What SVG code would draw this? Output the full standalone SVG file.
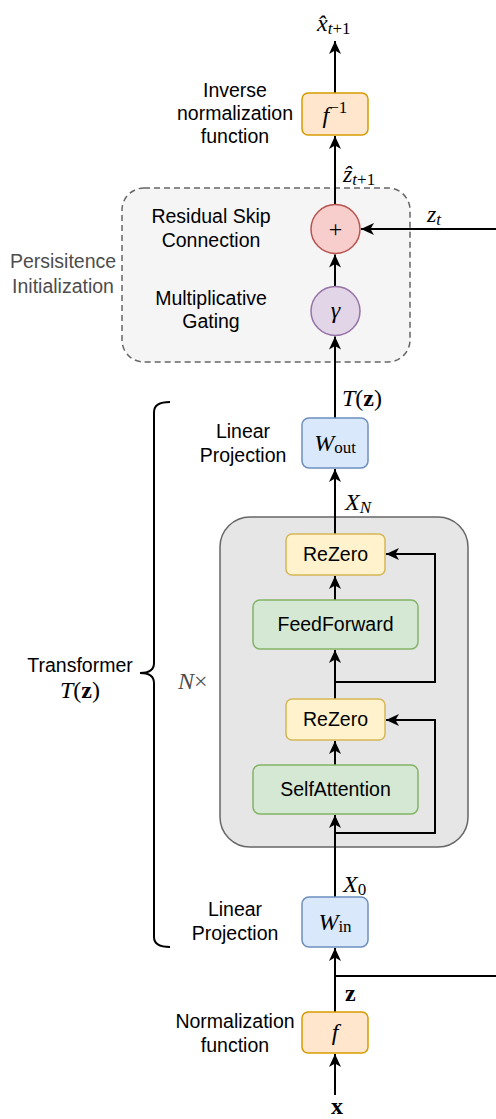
<svg xmlns="http://www.w3.org/2000/svg" width="496" height="1119" viewBox="0 0 496 1119">
<defs>
<marker id="arr" markerUnits="userSpaceOnUse" markerWidth="16" markerHeight="14" viewBox="-14 -7 16 14" refX="0" refY="0" orient="auto">
<path d="M-13,-6 L0,0 L-13,6 L-9.5,0 Z" fill="#000"/>
</marker>
</defs>
<style>
.lbl{font-family:"Liberation Sans",Arial,sans-serif;font-size:19.5px;fill:#000;text-anchor:middle}
.gray{fill:#4d4d4d}
.m{font-family:"Liberation Serif","DejaVu Serif",serif;font-size:24px;fill:#000}
.mi{font-style:italic}
.sub{font-size:17px}
.b{font-weight:bold}
.ln{stroke:#000;stroke-width:2;fill:none}
.orange{fill:#ffe6cc;stroke:#d79b00;stroke-width:1.5}
.blue{fill:#dae8fc;stroke:#6c8ebf;stroke-width:1.5}
.yellow{fill:#fff2cc;stroke:#d6b656;stroke-width:1.5}
.green{fill:#d5e8d4;stroke:#82b366;stroke-width:1.5}
</style>
<rect width="496" height="1119" fill="#fff"/>

<g id="persistence">
<rect x="122" y="188" width="288" height="174" rx="22" fill="#f5f5f5" stroke="#666" stroke-width="1.5" stroke-dasharray="6,4"/>
<text class="lbl gray" x="63" y="268">Persisitence</text>
<text class="lbl gray" x="63" y="293">Initialization</text>
</g>

<g id="block">
<rect x="220" y="517" width="248" height="330" rx="30" fill="#e6e6e6" stroke="#666" stroke-width="1.5"/>
<text class="m" x="178" y="689" fill="#4d4d4d"><tspan class="mi" fill="#4d4d4d">N</tspan><tspan fill="#4d4d4d">×</tspan></text>
</g>

<g id="brace">
<path class="ln" d="M170,402 Q154,402 154,412 V663 Q154,673 140,673 Q154,673 154,683 V937 Q154,947 170,947"/>
<text class="lbl" x="80" y="672">Transformer</text>
<text class="m" x="80" y="698" text-anchor="middle"><tspan class="mi">T</tspan>(<tspan class="b">z</tspan>)</text>
</g>

<g id="connectors">
<line class="ln" x1="335" y1="93" x2="335" y2="41" marker-end="url(#arr)"/>
<line class="ln" x1="335" y1="204.5" x2="335" y2="136" marker-end="url(#arr)"/>
<line class="ln" x1="335" y1="286.5" x2="335" y2="254.5" marker-end="url(#arr)"/>
<line class="ln" x1="335" y1="418" x2="335" y2="336.5" marker-end="url(#arr)"/>
<line class="ln" x1="335" y1="534" x2="335" y2="469" marker-end="url(#arr)"/>
<line class="ln" x1="335" y1="600" x2="335" y2="576" marker-end="url(#arr)"/>
<line class="ln" x1="335" y1="699" x2="335" y2="650" marker-end="url(#arr)"/>
<line class="ln" x1="335" y1="765" x2="335" y2="741" marker-end="url(#arr)"/>
<line class="ln" x1="335" y1="897" x2="335" y2="815" marker-end="url(#arr)"/>
<line class="ln" x1="335" y1="1012" x2="335" y2="948" marker-end="url(#arr)"/>
<line class="ln" x1="335" y1="1095" x2="335" y2="1054" marker-end="url(#arr)"/>
<path class="ln" d="M335,682 H435 V554 H386" marker-end="url(#arr)"/>
<path class="ln" d="M335,833 H435 V720 H386" marker-end="url(#arr)"/>
<path class="ln" d="M335,976 H500 V229 H361" marker-end="url(#arr)"/>
<text class="m" x="317" y="31"><tspan class="mi">x̂</tspan><tspan class="sub mi" dy="3">t</tspan><tspan class="sub">+1</tspan></text>
<text class="m" x="343" y="182"><tspan class="mi">ẑ</tspan><tspan class="sub mi" dy="3">t</tspan><tspan class="sub">+1</tspan></text>
<text class="m" x="427" y="222"><tspan class="mi">z</tspan><tspan class="sub mi" dy="3">t</tspan></text>
<text class="m" x="342" y="406"><tspan class="mi">T</tspan>(<tspan class="b">z</tspan>)</text>
<text class="m" x="345" y="510"><tspan class="mi">X</tspan><tspan class="sub mi" dy="3">N</tspan></text>
<text class="m" x="343" y="892"><tspan class="mi">X</tspan><tspan class="sub" dy="3">0</tspan></text>
<text class="m b" x="345" y="1001">z</text>
<text class="m b" x="331" y="1114">x</text>
</g>

<g id="finv">
<rect class="orange" x="302" y="93" width="66" height="42" rx="6"/>
<text class="m" x="335" y="123" text-anchor="middle"><tspan class="mi">f</tspan><tspan class="sub" dy="-10">−1</tspan></text>
<text class="lbl" x="235" y="97">Inverse</text>
<text class="lbl" x="235" y="120">normalization</text>
<text class="lbl" x="235" y="143">function</text>
</g>

<g id="plus">
<circle cx="335.5" cy="229" r="24.5" fill="#f8cecc" stroke="#b85450" stroke-width="1.5"/>
<text class="m" x="335.5" y="237" text-anchor="middle">+</text>
<text class="lbl" x="211" y="223">Residual Skip</text>
<text class="lbl" x="211" y="247">Connection</text>
</g>

<g id="gamma">
<circle cx="335.5" cy="311" r="24.5" fill="#e1d5e7" stroke="#9673a6" stroke-width="1.5"/>
<text class="m mi" x="335.5" y="318" text-anchor="middle">γ</text>
<text class="lbl" x="211" y="305">Multiplicative</text>
<text class="lbl" x="211" y="328">Gating</text>
</g>

<g id="wout">
<rect class="blue" x="302" y="418" width="66" height="50" rx="7"/>
<text class="m" x="335" y="451" text-anchor="middle"><tspan class="mi">W</tspan><tspan class="sub" dy="2">out</tspan></text>
<text class="lbl" x="243" y="438">Linear</text>
<text class="lbl" x="243" y="462">Projection</text>
</g>

<g id="rezero2">
<rect class="yellow" x="286" y="534" width="99" height="41" rx="6"/>
<text class="lbl" x="335.5" y="561">ReZero</text>
</g>
<g id="feedforward">
<rect class="green" x="253" y="600" width="165" height="49" rx="7"/>
<text class="lbl" x="335.5" y="631">FeedForward</text>
</g>
<g id="rezero1">
<rect class="yellow" x="286" y="699" width="99" height="41" rx="6"/>
<text class="lbl" x="335.5" y="726">ReZero</text>
</g>
<g id="selfattention">
<rect class="green" x="253" y="765" width="165" height="49" rx="7"/>
<text class="lbl" x="335.5" y="796">SelfAttention</text>
</g>

<g id="win">
<rect class="blue" x="302" y="897" width="66" height="50" rx="7"/>
<text class="m" x="335" y="930" text-anchor="middle"><tspan class="mi">W</tspan><tspan class="sub" dy="2">in</tspan></text>
<text class="lbl" x="235" y="916">Linear</text>
<text class="lbl" x="235" y="940">Projection</text>
</g>

<g id="f">
<rect class="orange" x="302" y="1012" width="66" height="41" rx="6"/>
<text class="m mi" x="335" y="1040" text-anchor="middle">f</text>
<text class="lbl" x="235" y="1028">Normalization</text>
<text class="lbl" x="235" y="1052">function</text>
</g>
</svg>
